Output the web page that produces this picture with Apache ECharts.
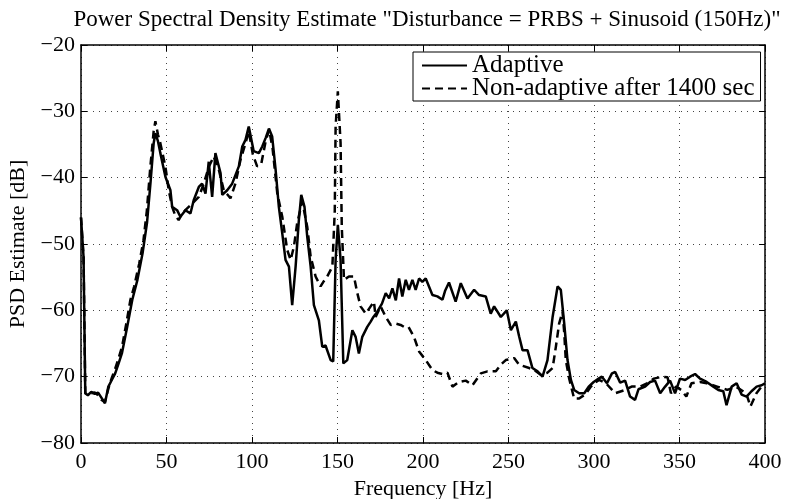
<!DOCTYPE html>
<html>
<head>
<meta charset="utf-8">
<script src="https://cdn.jsdelivr.net/npm/echarts@6/dist/echarts.min.js"></script>
<style>
  html, body { margin: 0; padding: 0; background: #fff; }
  #chart { width: 786px; height: 499px; }
</style>
</head>
<body>
<div id="chart"></div>
<script>
// Frequency (Hz) and PSD (dB) samples for the adaptive controller
const adaptiveFreq = [0, 1.5, 2.5, 4, 6, 8, 10, 12, 14, 16, 18, 20, 22, 24, 27, 30, 33, 36, 38.6, 40.6,
  42.5, 43.5, 45, 46.4, 49.4, 52.3, 53.3, 56.2, 58.1, 61.1, 64, 65.9, 68.9, 70.8, 72.8, 74.7, 76.7, 78.6,
  81.6, 82.6, 85.5, 88.4, 92.3, 94.3, 96.2, 98.1, 101, 104, 106, 108, 109.9, 111.8, 113.8, 115.7, 117.7,
  119.6, 121.6, 123.5, 125.5, 127.4, 128.8, 130.7, 132.3, 134.3, 136.2, 139.1, 141.1, 143, 144, 146,
  147.5, 148.9, 150.2, 151.8, 153.4, 155.7, 158.7, 160.6, 162.5, 164.5, 167.4, 169.4, 171, 173.3, 176,
  178.2, 180.2, 182.1, 184.1, 186, 187.9, 189.9, 191.8, 193.8, 195.7, 197.7, 199.6, 201.6, 203.5, 205.5,
  208.4, 211.4, 213, 215.2, 219.1, 222.1, 226, 229.9, 232.8, 236.7, 239.6, 241.6, 245.5, 249, 251.4,
  254.3, 256.2, 258.2, 261.1, 264, 267, 269.9, 272.8, 275.8, 278.7, 280.6, 282.6, 284.5, 286.5, 288.4,
  291.3, 294.3, 296.9, 299.8, 302.7, 304.6, 307.6, 310.5, 312.4, 315.3, 318.2, 321.1, 324, 326, 329.9,
  332.8, 335.7, 338.7, 341.6, 344.5, 347.4, 350.3, 353.3, 356.2, 359.1, 362, 365.9, 369.8, 372.7, 375.6,
  377.5, 380.5, 383.4, 386.3, 389.2, 392.1, 395.1, 398, 400];
const adaptiveDb = [-46, -52, -72.5, -72.8, -72.3, -72.6, -72.4, -73.2, -74, -71.5, -70.5, -69.5, -68, -66.4, -62.5, -58.4, -55.4, -51.4, -46.8, -40.9,
  -34.8, -33.3, -34.5, -36.3, -39.9, -41.9, -44.4, -44.9, -45.9, -44.9, -45.4, -43.4, -41.4, -40.9, -42.4, -37.6, -42.9, -36.3,
  -39.3, -42.6, -41.9, -40.9, -38.3, -35.3, -34.3, -32.3, -36, -36.3, -35.3, -34, -32.6, -33.8, -38.8, -44.4, -48.4,
  -52.4, -53.4, -59.2, -53.4, -46.4, -42.6, -44.4, -48.9, -53.4, -59.2, -61.5, -65.5, -65.3, -65, -67.5,
  -67.7, -52.4, -47.1, -52.4, -68, -67.5, -63, -64, -66.5, -64, -62.5, -61.7, -61, -60.2, -59,
  -57.4, -58.2, -56.7, -58.5, -55.2, -57.9, -55.4, -56.9, -55.4, -56.9, -55.2, -55.7, -55.2, -56.4, -57.7,
  -57.9, -58.4, -57, -55.8, -58.7, -55.9, -58.2, -56.9, -57.7, -57.9, -60.5, -59.4, -61, -60, -63,
  -61.7, -63.9, -66, -66, -68.7, -69.2, -70, -67.5, -61, -56.4, -56.9, -62, -67.5, -70.5, -72,
  -72.5, -72.5, -71.5, -70.8, -70.3, -70, -71, -69.5, -69.3, -70.9, -70.6, -73, -73.5, -71.9, -71.5,
  -70.8, -70.6, -72.5, -71.5, -70.6, -72.5, -70.3, -70.5, -70, -69.6, -70.3, -70.8, -71.5, -72, -72.2,
  -74.3, -71.5, -71, -72.7, -73, -72.2, -71.5, -71.3, -71];

// Frequency (Hz) and PSD (dB) samples with adaptation stopped after 1400 s
const nonAdaptiveFreq = [0, 1.5, 2.5, 4, 6, 8, 10, 12, 14, 16, 18, 20, 22, 24, 26.5, 28.9, 31, 34, 36.5, 38.5,
  40.5, 42.5, 43.5, 45, 46.4, 49.4, 51.3, 53.3, 55, 57.1, 59, 61, 65, 68.9, 71.8, 74.7, 77.6, 80.6, 83.5,
  85.5, 87.4, 90.3, 93.3, 96.2, 98.1, 100.5, 103, 105.5, 108, 110, 112, 114.8, 117.7, 120.6, 122.6, 124.5,
  126.4, 129.4, 132.3, 134.3, 137.2, 140.1, 142, 144, 147, 148.4, 148.9, 150.2, 151.8, 152.5, 153.8, 156.7,
  159.6, 161.6, 163.5, 166.5, 169.4, 171.3, 172.3, 175.2, 178.2, 181.1, 184, 186.9, 188.9, 191.5, 194.7,
  197.7, 201.6, 205.5, 208.4, 211.4, 214.3, 217.2, 221.1, 225, 228.9, 233.8, 237.7, 242.6, 245.5, 248.4,
  253.3, 256.2, 262.1, 265, 268.9, 272.8, 275.8, 277.7, 279.6, 281.6, 282.6, 283.5, 285.5, 288.4, 291.3,
  295.2, 298.2, 300, 303, 307, 312.4, 318.2, 322, 327, 331, 335, 340, 343, 345, 348, 351, 354, 357, 362,
  366, 372, 378, 383, 389, 391.5, 395, 398, 400];
const nonAdaptiveDb = [-46, -52, -72.5, -72.6, -72.5, -72.4, -72.8, -73.5, -73.8, -71.8, -70.2, -68.8, -67.2, -65.5, -62, -58.4, -56.5, -53, -49.5, -45,
  -38.5, -33, -31.5, -33.5, -34.8, -38.4, -41.9, -44.4, -45.6, -46.4, -45.5, -44.9, -43.9, -42.9, -40.9, -38.4, -36.8, -38.8, -41.9,
  -42.5, -43.1, -40.9, -37.3, -34.8, -33, -36.5, -38.3, -37.8, -34.5, -32.8, -35.5, -42.4, -45.9, -50.9, -52.4, -50.4,
  -46.9, -43.6, -47.4, -51.9, -54.9, -56.4, -55.6, -54.9, -53.4, -45, -32.3, -27, -34.8, -47.4, -55.4, -54.9,
  -54.9, -57.4, -59.4, -60.5, -59.4, -58.7, -61, -59.4, -61, -62.2, -62, -62.2, -62.5, -62.5, -64,
  -66.2, -67.5, -69, -69.4, -69.6, -69.4, -71.5, -70.8, -70.6, -71.3, -69.5, -69.2, -69.2, -68.2, -67.5,
  -67.2, -68.2, -68.7, -69, -69.7, -69.4, -68.7, -65.5, -62, -60.2, -63.4, -67.5, -70.3, -73.3, -73.3,
  -72.6, -71.5, -71, -70.5, -71, -72.5, -72, -71.5, -71.5, -71, -70.3, -70, -70.1, -72.5, -71.5, -72, -73, -71, -70.8,
  -71, -71.5, -72, -71.5, -72.5, -74.5, -72.5, -71.5, -71.3];

const xTicks = { min: 0, max: 400, interval: 50 };
const yTicks = { min: -80, max: -20, interval: 10 };

const pairs = (xs, ys) => xs.map((x, i) => [x, ys[i]]);
const minusFmt = v => (v < 0 ? '\u2212' + Math.abs(v) : String(v));

const serif = 'Liberation Serif';
const axisTextColor = '#000';

const chart = echarts.init(document.getElementById('chart'), null, { renderer: 'canvas' });

const baseAxisLine = { show: true, onZero: false, lineStyle: { color: '#000', width: 1.5 } };
const inwardTick = { show: true, inside: true, length: 6, lineStyle: { color: '#000', width: 1 } };
const dotted = { show: true, lineStyle: { color: '#444', width: 1, type: [1, 5] } };

chart.setOption({
  animation: false,
  backgroundColor: '#fff',
  title: {
    text: 'Power Spectral Density Estimate "Disturbance = PRBS + Sinusoid (150Hz)"',
    left: 422,
    textAlign: 'center',
    top: 3,
    textStyle: { fontFamily: serif, fontSize: 23, fontWeight: 'normal', color: '#000' }
  },
  grid: { left: 81, top: 45, right: 21, bottom: 56, show: false, containLabel: false, outerBoundsMode: 'none' },
  legend: {
    show: true,
    orient: 'vertical',
    left: 413,
    top: 52,
    backgroundColor: '#fff',
    borderColor: '#000',
    borderWidth: 1,
    borderRadius: 0,
    padding: [1, 6, 0, 8],
    itemWidth: 45,
    itemHeight: 12,
    itemGap: -2,
    itemStyle: { opacity: 0 },
    textStyle: { fontFamily: serif, fontSize: 25, color: '#000', lineHeight: 22 },
    data: ['Adaptive', 'Non-adaptive after 1400 sec']
  },
  xAxis: [
    {
      type: 'value', position: 'bottom', ...xTicks,
      name: 'Frequency [Hz]', nameLocation: 'middle', nameGap: 35,
      nameTextStyle: { fontFamily: serif, fontSize: 22, color: axisTextColor },
      axisLine: baseAxisLine, axisTick: inwardTick,
      axisLabel: { fontFamily: serif, fontSize: 22, color: axisTextColor, margin: 8 },
      splitLine: dotted
    },
    {
      type: 'value', position: 'top', ...xTicks,
      axisLine: baseAxisLine, axisTick: inwardTick,
      axisLabel: { show: false }, splitLine: { show: false }
    }
  ],
  yAxis: [
    {
      type: 'value', position: 'left', ...yTicks,
      name: 'PSD Estimate [dB]', nameLocation: 'middle', nameGap: 52,
      nameTextStyle: { fontFamily: serif, fontSize: 22, color: axisTextColor },
      axisLine: baseAxisLine, axisTick: inwardTick,
      axisLabel: { fontFamily: serif, fontSize: 22, color: axisTextColor, margin: 6, formatter: minusFmt },
      splitLine: dotted
    },
    {
      type: 'value', position: 'right', ...yTicks,
      axisLine: baseAxisLine, axisTick: inwardTick,
      axisLabel: { show: false }, splitLine: { show: false }
    }
  ],
  series: [
    {
      name: 'Adaptive', type: 'line', xAxisIndex: 0, yAxisIndex: 0,
      data: pairs(adaptiveFreq, adaptiveDb),
      showSymbol: false, symbol: 'none',
      lineStyle: { color: '#000', width: 2.5, type: 'solid' },
      itemStyle: { color: '#000' }
    },
    {
      name: 'Non-adaptive after 1400 sec', type: 'line', xAxisIndex: 0, yAxisIndex: 0,
      data: pairs(nonAdaptiveFreq, nonAdaptiveDb),
      showSymbol: false, symbol: 'none',
      lineStyle: { color: '#000', width: 2.5, type: [8, 5] },
      itemStyle: { color: '#000' }
    }
  ]
});
</script>
</body>
</html>
